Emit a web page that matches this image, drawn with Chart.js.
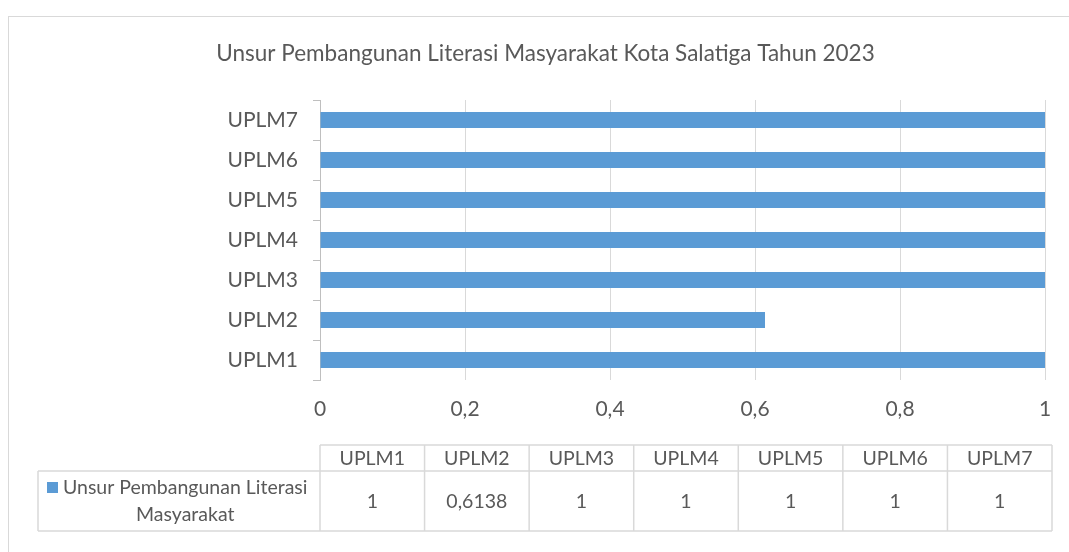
<!DOCTYPE html>
<html>
<head>
<meta charset="utf-8">
<script src="https://cdn.jsdelivr.net/npm/chart.js@4.4.0/dist/chart.umd.min.js"></script>
<style>
    html, body { margin: 0; padding: 0; background: #fff; overflow: hidden; }
    #frame {
        position: absolute; left: 8px; top: 16px;
        width: 2000px; height: 1000px;
        border: 1px solid #d9d9d9;
    }
    #chart { position: absolute; left: 0; top: 0; }
</style>
</head>
<body>
<div id="frame"></div>
<canvas id="chart" width="1069" height="552"></canvas>
<script>
    'use strict';

    // Data
    const TITLE = 'Unsur Pembangunan Literasi Masyarakat Kota Salatiga Tahun 2023';
    const SERIES_NAME = ['Unsur Pembangunan Literasi', 'Masyarakat'];
    const CATEGORIES = ['UPLM1', 'UPLM2', 'UPLM3', 'UPLM4', 'UPLM5', 'UPLM6', 'UPLM7'];
    const VALUES = [1, 0.6138, 1, 1, 1, 1, 1];
    const X_TICKS = [0, 0.2, 0.4, 0.6, 0.8, 1];

    const BAR_COLOR = '#5b9bd5';
    const TEXT_COLOR = '#595959';
    const GRID_COLOR = '#d9d9d9';
    const FONT = "Lato, 'Open Sans', sans-serif";

    function fmt(v) {
        return String(Math.round(v * 10000) / 10000).replace('.', ',');
    }

    // Draws the Excel-style data table under the x axis
    const dataTable = {
        id: 'dataTable',
        afterDraw(chart) {
            const ctx = chart.ctx;
            const area = chart.chartArea;
            const left = area.left;
            const right = area.right + 7;
            const colW = (right - left) / CATEGORIES.length;
            const headTop = area.bottom + 65;
            const rowTop = headTop + 26;
            const rowBot = rowTop + 60;
            const legLeft = left - 282;

            ctx.save();
            ctx.strokeStyle = GRID_COLOR;
            ctx.lineWidth = 1.5;
            ctx.beginPath();
            ctx.moveTo(left, headTop); ctx.lineTo(right, headTop);
            ctx.moveTo(legLeft, rowTop); ctx.lineTo(right, rowTop);
            ctx.moveTo(legLeft, rowBot); ctx.lineTo(right, rowBot);
            ctx.moveTo(legLeft, rowTop); ctx.lineTo(legLeft, rowBot);
            for (let i = 0; i <= CATEGORIES.length; i++) {
                const x = left + i * colW;
                ctx.moveTo(x, headTop); ctx.lineTo(x, rowBot);
            }
            ctx.stroke();

            ctx.fillStyle = TEXT_COLOR;
            ctx.font = '19.5px ' + FONT;
            ctx.textAlign = 'center';
            ctx.textBaseline = 'middle';
            CATEGORIES.forEach((c, i) => {
                const cx = left + (i + 0.5) * colW;
                ctx.fillText(c, cx, headTop + 14);
                ctx.fillText(fmt(VALUES[i]), cx, rowTop + 31);
            });

            // legend key + series name
            const w1 = ctx.measureText(SERIES_NAME[0]).width;
            const tx = legLeft + 25;
            ctx.textAlign = 'left';
            ctx.fillText(SERIES_NAME[0], tx, rowTop + 17);
            ctx.textAlign = 'center';
            ctx.fillText(SERIES_NAME[1], tx + w1 / 2, rowTop + 44);
            ctx.fillStyle = BAR_COLOR;
            ctx.fillRect(legLeft + 9, rowTop + 11, 11, 11);
            ctx.restore();
        }
    };

    new Chart(document.getElementById('chart'), {
        type: 'bar',
        data: {
            labels: CATEGORIES,
            datasets: [{
                label: SERIES_NAME.join(' '),
                data: VALUES,
                backgroundColor: BAR_COLOR,
                borderWidth: 0,
                barPercentage: 0.4,
                categoryPercentage: 1
            }]
        },
        options: {
            indexAxis: 'y',
            responsive: false,
            animation: false,
            layout: { padding: { left: 46, right: 24, top: 0, bottom: 120 } },
            plugins: {
                legend: { display: false },
                tooltip: { enabled: false },
                title: {
                    display: true,
                    text: TITLE,
                    color: TEXT_COLOR,
                    font: { family: FONT, size: 22.5, weight: 'normal', lineHeight: 1.2 },
                    padding: { top: 40, bottom: 33 }
                }
            },
            scales: {
                x: {
                    min: 0,
                    max: 1,
                    afterBuildTicks: (scale) => { scale.ticks = X_TICKS.map(v => ({ value: v })); },
                    afterFit: (scale) => { scale.height = 52; },
                    border: { display: false },
                    grid: { color: GRID_COLOR, drawTicks: false },
                    ticks: {
                        color: TEXT_COLOR,
                        padding: 17,
                        font: { family: FONT, size: 21 },
                        callback: (v) => fmt(v)
                    }
                },
                y: {
                    reverse: true,
                    afterFit: (scale) => { scale.width = 274; },
                    border: { display: true, color: '#bfbfbf', width: 1 },
                    grid: {
                        drawOnChartArea: false,
                        drawTicks: true,
                        tickLength: 7,
                        color: '#bfbfbf'
                    },
                    ticks: {
                        color: TEXT_COLOR,
                        padding: 15,
                        font: { family: FONT, size: 21 }
                    }
                }
            }
        },
        plugins: [dataTable]
    });
</script>
</body>
</html>
